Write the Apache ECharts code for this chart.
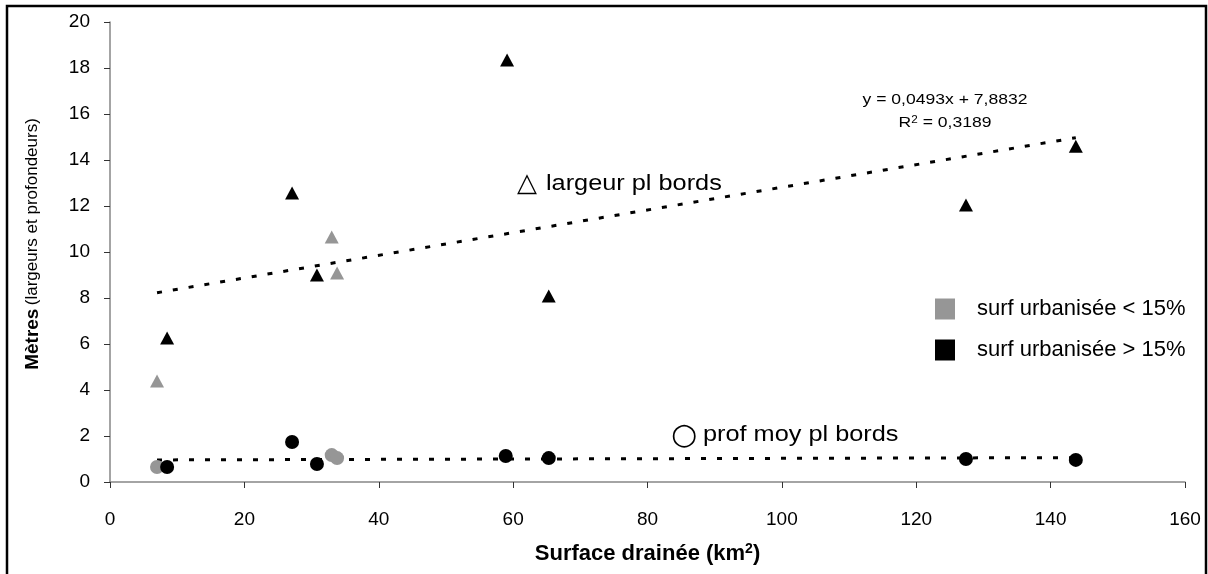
<!DOCTYPE html>
<html>
<head>
<meta charset="utf-8">
<script src="https://cdn.jsdelivr.net/npm/echarts@6/dist/echarts.min.js"></script>
<style>
html,body{margin:0;padding:0;background:#fff;}
#chart{width:1208px;height:574px;}
</style>
</head>
<body>
<div id="chart"></div>
<script>
// Surface drainée (km²) and widths / depths (m)
var widthLowUrban = [[7.0, 4.39], [33.0, 10.65], [33.8, 9.09]];
var widthHighUrban = [[8.5, 6.26], [27.1, 12.57], [30.8, 9.0], [59.1, 18.35], [65.3, 8.09], [127.4, 12.04], [143.75, 14.6]];
var depthLowUrban = [[7.0, 0.65], [33.0, 1.17], [33.8, 1.04]];
var depthHighUrban = [[8.5, 0.65], [27.1, 1.74], [30.8, 0.78], [58.9, 1.13], [65.3, 1.04], [127.4, 1.0], [143.75, 0.96]];
var widthTrend = [[7.0, 8.23], [143.75, 14.97]];
var depthTrend = [[7.0, 0.96], [143.75, 1.06]];
var xTicks = {min: 0, max: 160, interval: 20};
var yTicks = {min: 0, max: 20, interval: 2};
var legendNames = ['surf urbanisée < 15%', 'surf urbanisée > 15%'];

var font = '"Liberation Sans", Arial, sans-serif';
var grey = '#969696';
var black = '#000000';

var chart = echarts.init(document.getElementById('chart'), null, {renderer: 'canvas'});
var dash = {color: black, width: 3, type: [5, 11]};

chart.setOption({
  backgroundColor: '#fff',
  animation: false,
  textStyle: {fontFamily: font},
  grid: {left: 110, right: 23, top: 22, bottom: 92},
  xAxis: {
    type: 'value', min: xTicks.min, max: xTicks.max, interval: xTicks.interval,
    splitLine: {show: false},
    axisLine: {show: true, lineStyle: {color: '#868686', width: 1.5}},
    axisTick: {show: true, inside: false, length: 6, lineStyle: {color: '#333', width: 1}},
    axisLabel: {color: '#000', fontSize: 19, margin: 28, fontFamily: font},
    name: 'Surface drainée (km{sup|2})',
    nameLocation: 'middle', nameGap: 60,
    nameTextStyle: {
      color: '#000', fontSize: 22, fontWeight: 'bold', fontFamily: font,
      rich: {sup: {fontSize: 14, fontWeight: 'bold', verticalAlign: 'top', padding: [0, 0, 9, 0], fontFamily: font}}
    }
  },
  yAxis: {
    type: 'value', min: yTicks.min, max: yTicks.max, interval: yTicks.interval,
    splitLine: {show: false},
    axisLine: {show: true, lineStyle: {color: '#868686', width: 1.5}},
    axisTick: {show: true, inside: false, length: 6, lineStyle: {color: '#333', width: 1}},
    axisLabel: {color: '#000', fontSize: 19, margin: 20, fontFamily: font},
    name: '{b|Mètres} {s|(largeurs et profondeurs)}',
    nameLocation: 'middle', nameGap: 68, nameRotate: 90,
    nameTextStyle: {
      color: '#000', fontFamily: font, padding: [0, 0, 0, 16],
      rich: {
        b: {fontSize: 19, fontWeight: 'bold', fontFamily: font, color: '#000'},
        s: {fontSize: 17, fontFamily: font, color: '#000'}
      }
    }
  },
  legend: {
    data: legendNames,
    orient: 'vertical', left: 935, top: 298, padding: 0,
    icon: 'rect', itemWidth: 20, itemHeight: 21, itemGap: 19,
    textStyle: {fontSize: 22, color: '#000', fontFamily: font, padding: [6, 0, 0, 17]},
    selectedMode: false
  },
  series: [
    {type: 'line', data: widthTrend, symbol: 'none', lineStyle: dash, silent: true, z: 1},
    {type: 'line', data: depthTrend, symbol: 'none', lineStyle: dash, silent: true, z: 1},
    {name: legendNames[0], type: 'scatter', data: widthLowUrban, symbol: 'triangle', symbolSize: [14, 13], itemStyle: {color: grey, opacity: 1}, z: 2},
    {name: legendNames[0], type: 'scatter', data: depthLowUrban, symbol: 'circle', symbolSize: 14, itemStyle: {color: grey, opacity: 1}, z: 2},
    {name: legendNames[1], type: 'scatter', data: widthHighUrban, symbol: 'triangle', symbolSize: [14, 13], itemStyle: {color: black, opacity: 1}, z: 3},
    {name: legendNames[1], type: 'scatter', data: depthHighUrban, symbol: 'circle', symbolSize: 14, itemStyle: {color: black, opacity: 1}, z: 3}
  ],
  graphic: [
    {type: 'polyline', shape: {points: [[7, 574], [7, 6], [1206, 6], [1206, 574]]}, style: {stroke: '#000', lineWidth: 2.5, fill: null}, silent: true},
    {type: 'text', x: 517, y: 184, style: {text: '△', fontSize: 26, fontFamily: '"DejaVu Sans", sans-serif', fill: '#000', verticalAlign: 'middle'}},
    {type: 'text', x: 546, y: 184, scaleX: 1.15, style: {text: 'largeur pl bords', fontSize: 22, fontFamily: font, fill: '#000', verticalAlign: 'middle'}},
    {type: 'text', x: 671, y: 436, style: {text: '○', fontSize: 30, fontFamily: '"DejaVu Sans", sans-serif', fill: '#000', verticalAlign: 'middle'}},
    {type: 'text', x: 703, y: 435, scaleX: 1.15, style: {text: 'prof moy pl bords', fontSize: 22, fontFamily: font, fill: '#000', verticalAlign: 'middle'}},
    {type: 'text', x: 945, y: 100, scaleX: 1.17, style: {text: 'y = 0,0493x + 7,8832', fontSize: 15, fontFamily: font, fill: '#000', align: 'center', verticalAlign: 'middle'}},
    {type: 'text', x: 945, y: 123, scaleX: 1.17, style: {text: 'R{sup|2} = 0,3189', fontSize: 15, fontFamily: font, fill: '#000', align: 'center', verticalAlign: 'middle',
      rich: {sup: {fontSize: 10, verticalAlign: 'top', padding: [0, 0, 6, 0], fontFamily: font}}}}
  ]
});
</script>
</body>
</html>
